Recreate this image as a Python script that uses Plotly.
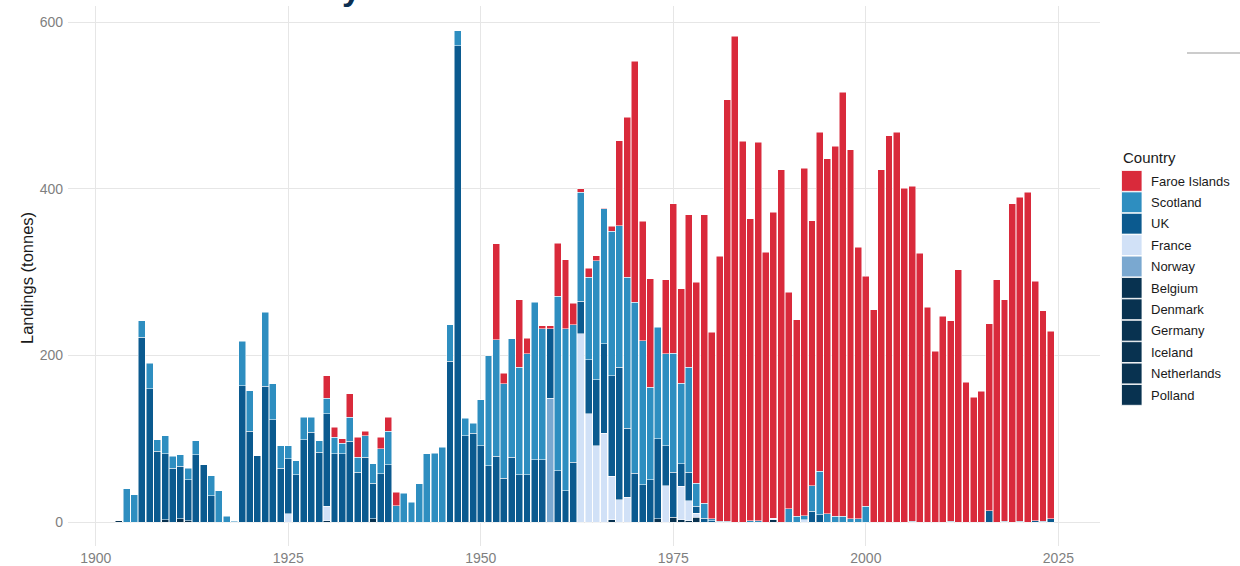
import plotly.graph_objects as go

# ---------------- data (tonnes landed) ----------------
faroe_years = [1930, 1931, 1932, 1933, 1934, 1935, 1937, 1938, 1939, 1952, 1953, 1955, 1956, 1958, 1959,
               1960, 1961, 1962, 1963, 1964, 1965, 1966, 1967, 1968, 1969, 1970, 1971, 1972, 1974, 1975,
               1976, 1977, 1978, 1979, 1980, 1981, 1982, 1983, 1984, 1985, 1986, 1987, 1988, 1989, 1990,
               1991, 1992, 1993, 1994, 1995, 1996, 1997, 1998, 1999, 2000, 2001, 2002, 2003, 2004, 2005,
               2006, 2007, 2008, 2009, 2010, 2011, 2012, 2013, 2014, 2015, 2016, 2017, 2018, 2019, 2020,
               2021, 2022, 2023, 2024]
faroe_tonnes = [27, 12, 5, 28, 24, 5, 14, 17, 16, 115, 13, 81, 19, 4, 4,
                64, 83, 26, 4, 11, 6, 1, 6, 102, 192, 289, 143, 130, 89, 179,
                113, 183, 241, 346, 224, 318, 506, 583, 457, 362, 454, 324, 367, 423, 260,
                236, 417, 318, 407, 426, 444, 509, 443, 326, 276, 255, 423, 464, 468, 401,
                402, 323, 258, 205, 247, 241, 303, 168, 150, 157, 224, 291, 266, 382, 389,
                396, 287, 253, 225]

scotland_years = [1904, 1905, 1906, 1907, 1908, 1909, 1910, 1911, 1912, 1913, 1915, 1916, 1917, 1918, 1919,
                  1920, 1922, 1923, 1924, 1925, 1926, 1927, 1928, 1929, 1930, 1931, 1932, 1933, 1934, 1935,
                  1936, 1937, 1938, 1939, 1940, 1941, 1942, 1943, 1944, 1945, 1946, 1947, 1948, 1949, 1950,
                  1951, 1952, 1953, 1954, 1955, 1956, 1957, 1958, 1960, 1961, 1962, 1963, 1964, 1965, 1966,
                  1967, 1968, 1969, 1970, 1971, 1972, 1973, 1974, 1975, 1976, 1977, 1978, 1979, 1980, 1985,
                  1986, 1990, 1991, 1992, 1993, 1994, 1995, 1996, 1997, 1998, 1999, 2000]
scotland_tonnes = [40, 33, 20, 31, 14, 22, 14, 14, 14, 17, 24, 38, 7, 1, 53,
                   49, 89, 43, 27, 16, 17, 27, 18, 14, 19, 20, 13, 29, 18, 26,
                   23, 30, 40, 20, 35, 24, 46, 82, 83, 90, 44, 18, 21, 12, 55,
                   132, 140, 113, 142, 129, 145, 189, 157, 209, 194, 165, 131, 99, 143, 162,
                   173, 170, 181, 205, 173, 111, 134, 110, 143, 97, 126, 28, 18, 2, 2,
                   2, 16, 7, 5, 31, 52, 10, 7, 7, 4, 4, 19]

uk_years = [1906, 1907, 1908, 1909, 1910, 1911, 1912, 1913, 1914, 1915, 1919, 1920, 1921, 1922, 1923,
            1924, 1925, 1926, 1927, 1928, 1929, 1930, 1931, 1932, 1933, 1934, 1935, 1936, 1937, 1938,
            1946, 1947, 1948, 1949, 1950, 1951, 1952, 1953, 1954, 1955, 1956, 1957, 1958, 1959, 1960,
            1961, 1962, 1963, 1964, 1965, 1966, 1967, 1968, 1969, 1970, 1971, 1972, 1973, 1974, 1975,
            1976, 1977, 1978, 1979, 1980, 1981, 1982, 1993, 1994, 2006, 2011, 2016, 2018, 2020, 2022,
            2023, 2024]
uk_tonnes = [222, 160, 85, 79, 65, 63, 49, 81, 69, 32, 164, 109, 80, 163, 123,
             65, 66, 57, 99, 108, 84, 111, 82, 82, 97, 60, 78, 43, 58, 69,
             193, 572, 104, 107, 92, 68, 79, 53, 78, 57, 57, 75, 75, 83, 62,
             38, 72, 39, 65, 79, 107, 121, 159, 83, 59, 45, 51, 96, 48, 54,
             27, 34, 8, 5, 2, 1, 1, 13, 9, 1, 1, 14, 1, 1, 2,
             1, 4]

france_years = [1925, 1930, 1963, 1964, 1965, 1966, 1967, 1968, 1969, 1974, 1976, 1977, 1978, 1988, 1992]
france_tonnes = [10, 17, 226, 130, 92, 107, 52, 27, 30, 44, 40, 24, 5, 2, 3]

norway_years = [1959]
norway_tonnes = [149]

belgium_years = [1903, 1977]
belgium_tonnes = [2, 2]
denmark_years = [1967, 1975]
denmark_tonnes = [3, 6]
germany_years = [1909, 1911, 1988]
germany_tonnes = [3, 4, 3]
iceland_years = [1930, 1936, 1978]
iceland_tonnes = [2, 4, 6]
netherlands_years = [1912, 1976]
netherlands_tonnes = [2, 3]
polland_years = [1973]
polland_tonnes = [4]

x_ticks = [1900, 1925, 1950, 1975, 2000, 2025]
y_ticks = [0, 200, 400, 600]

# ---------------- styling ----------------
NAVY = "#083250"
series = [  # bottom of stack first
    ("Polland", polland_years, polland_tonnes, NAVY),
    ("Netherlands", netherlands_years, netherlands_tonnes, NAVY),
    ("Iceland", iceland_years, iceland_tonnes, NAVY),
    ("Germany", germany_years, germany_tonnes, NAVY),
    ("Denmark", denmark_years, denmark_tonnes, NAVY),
    ("Belgium", belgium_years, belgium_tonnes, NAVY),
    ("Norway", norway_years, norway_tonnes, "#7aa8d0"),
    ("France", france_years, france_tonnes, "#d1e1f7"),
    ("UK", uk_years, uk_tonnes, "#0b5a8f"),
    ("Scotland", scotland_years, scotland_tonnes, "#2e8ec0"),
    ("Faroe Islands", faroe_years, faroe_tonnes, "#d92a3b"),
]

fig = go.Figure()
for name, yrs, vals, col in series:
    assert len(yrs) == len(vals), name
    fig.add_trace(go.Bar(
        x=yrs, y=vals, name=name, showlegend=False,
        marker=dict(color=col, line=dict(color="rgba(255,255,255,0.85)", width=0.6)),
    ))

W, H = 1240, 566
L, R, T, B = 68, 140, 6, 20
pw, ph = W - L - R, H - T - B


def px(xp):
    return (xp - L) / pw


def py(yp):
    return (H - B - yp) / ph


shapes = []
annotations = []
# manual legend (ggplot style)
legend_order = ["Faroe Islands", "Scotland", "UK", "France", "Norway", "Belgium",
                "Denmark", "Germany", "Iceland", "Netherlands", "Polland"]
colors = {n: c for n, _, _, c in series}
annotations.append(dict(text="Country", x=px(1121), y=py(157), xref="paper", yref="paper",
                        xanchor="left", yanchor="middle", showarrow=False,
                        font=dict(family="Liberation Sans, Arial", size=15, color="#1a1a1a")))
for i, n in enumerate(legend_order):
    top = 170.5 + i * 21.4
    shapes.append(dict(type="rect", xref="paper", yref="paper",
                       x0=px(1121.5), x1=px(1142), y0=py(top), y1=py(top + 20.8),
                       fillcolor=colors[n], line=dict(color="white", width=0.8)))
    annotations.append(dict(text=n, x=px(1149), y=py(top + 10.6), xref="paper", yref="paper",
                            xanchor="left", yanchor="middle", showarrow=False,
                            font=dict(family="Liberation Sans, Arial", size=13, color="#1a1a1a")))

# y-axis title
annotations.append(dict(text="Landings (tonnes)", x=px(27), y=py(278), xref="paper", yref="paper",
                        xanchor="center", yanchor="middle", textangle=-90, showarrow=False,
                        font=dict(family="Liberation Sans, Arial", size=16.5, color="#1a1a1a")))

# cropped title fragment at the very top of the reference
annotations.append(dict(text="<b>y</b>", x=px(351), y=py(9), xref="paper", yref="paper",
                        xanchor="center", yanchor="bottom", showarrow=False,
                        font=dict(family="Liberation Sans, Arial", size=34, color="#0c2f52")))
# grey rule fragment top right
shapes.append(dict(type="line", xref="paper", yref="paper",
                   x0=px(1187), x1=px(1240), y0=py(53), y1=py(53),
                   line=dict(color="#9a9a9a", width=1.2)))

fig.update_layout(
    width=W, height=H,
    margin=dict(l=L, r=R, t=T, b=B, pad=0, autoexpand=False),
    barmode="stack", bargap=0.1,
    plot_bgcolor="white", paper_bgcolor="white",
    showlegend=False, hovermode=False,
    shapes=shapes, annotations=annotations,
    font=dict(family="Liberation Sans, Arial", color="#7f7f7f", size=14),
    xaxis=dict(range=[1896.4, 2030.4], tickvals=x_ticks, ticktext=[str(v) for v in x_ticks],
               showgrid=True, gridcolor="#e6e6e6", gridwidth=1.2, zeroline=False,
               showline=False, ticks="", tickfont=dict(size=14, color="#7f7f7f"),
               ticklabelstandoff=2, automargin=False),
    yaxis=dict(range=[-28.5, 619.5], tickvals=y_ticks, ticktext=[str(v) for v in y_ticks],
               showgrid=True, gridcolor="#e6e6e6", gridwidth=1.2, zeroline=False,
               showline=False, ticks="", tickfont=dict(size=14, color="#7f7f7f"),
               ticklabelstandoff=4, automargin=False),
)

# remove the browser's default 8px body margin so the figure fills the window exactly
fig.write_html(
    "out.html",
    config={"displayModeBar": False},
    post_script="document.body.style.margin='0';document.body.style.overflow='hidden';",
)
